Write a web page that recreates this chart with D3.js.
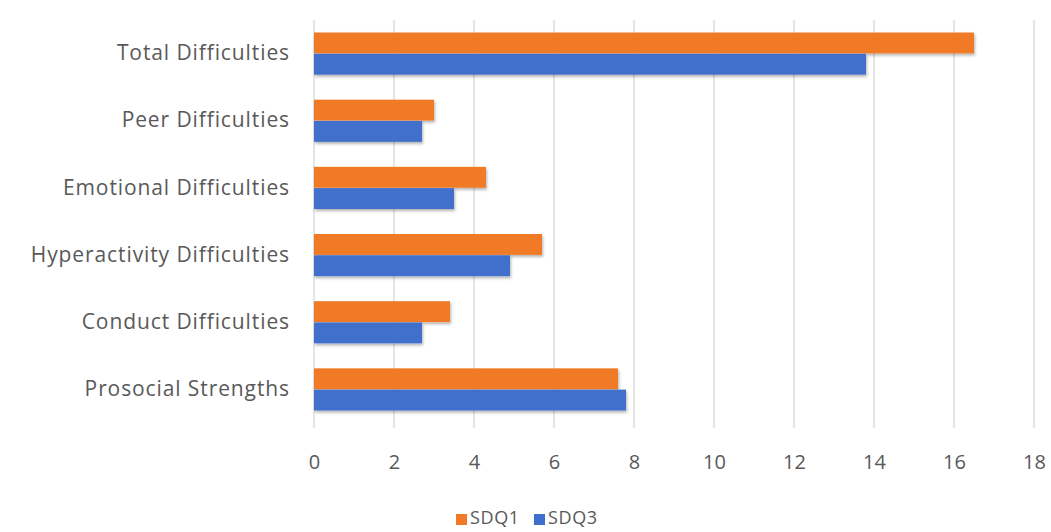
<!DOCTYPE html>
<html>
<head>
<meta charset="utf-8">
<script src="https://cdn.jsdelivr.net/npm/d3@7"></script>
<style>
  html, body { margin: 0; padding: 0; background: #fff; }
  svg { display: block; }
  text { font-family: "Open Sans", "Noto Sans", sans-serif; fill: #595959; }
</style>
</head>
<body>
<svg id="chart" width="1051" height="532"></svg>
<script>
// SDQ scale means per subscale, two time points
const categories = ["Total Difficulties", "Peer Difficulties", "Emotional Difficulties",
                    "Hyperactivity Difficulties", "Conduct Difficulties", "Prosocial Strengths"];
const seriesNames = ["SDQ1", "SDQ3"];
const sdq1 = [16.5, 3.0, 4.3, 5.7, 3.4, 7.6];
const sdq3 = [13.8, 2.7, 3.5, 4.9, 2.7, 7.8];
const xTicks = [0, 2, 4, 6, 8, 10, 12, 14, 16, 18];
const colors = ["#F07A28", "#3F6FCC"];

const seriesValues = [sdq1, sdq3];
const rows = categories.map((c, i) => ({ cat: c, vals: seriesValues.map(s => s[i]) }));

const svg = d3.select("#chart");
const m = { left: 314, right: 17, top: 20, bottom: 109 };
const W = 1051, H = 532;

const x = d3.scaleLinear().domain([0, 18]).range([m.left, W - m.right]);
const y = d3.scaleBand().domain(categories).range([m.top, H - m.bottom]).paddingInner(0.36).paddingOuter(0.18);
const ySub = d3.scaleBand().domain(seriesNames).range([0, y.bandwidth()]).padding(0.02);

// soft drop shadow under the bars
const defs = svg.append("defs");
const f = defs.append("filter").attr("id", "shadow").attr("x", "-5%").attr("y", "-30%").attr("width", "110%").attr("height", "170%");
f.append("feDropShadow").attr("dx", 1).attr("dy", 2).attr("stdDeviation", 1.6).attr("flood-color", "#000").attr("flood-opacity", 0.3);

// vertical gridlines
const grid = svg.append("g").attr("class", "grid");
grid.selectAll("line").data(xTicks).join("line")
  .attr("x1", d => x(d)).attr("x2", d => x(d))
  .attr("y1", m.top).attr("y2", H - m.bottom + 5)
  .attr("stroke", "#dadada").attr("stroke-width", 1.4);

// bars
const groups = svg.append("g").selectAll("g").data(rows).join("g")
  .attr("transform", d => `translate(0,${y(d.cat)})`);
groups.selectAll("rect").data(d => d.vals.map((v, j) => ({ v, s: seriesNames[j], j })))
  .join("rect")
  .attr("x", x(0))
  .attr("y", d => ySub(d.s))
  .attr("width", d => x(d.v) - x(0))
  .attr("height", ySub.bandwidth())
  .attr("fill", d => colors[d.j])
  .attr("filter", "url(#shadow)");

// x axis labels
const xAxis = d3.axisBottom(x).tickValues(xTicks).tickSize(0).tickPadding(0).tickFormat(d3.format("d"));
const gx = svg.append("g").attr("transform", `translate(0,${H - m.bottom + 40})`).call(xAxis);
gx.select(".domain").remove();
gx.selectAll("text").attr("font-size", 20).attr("font-family", null).attr("fill", "#595959").attr("dy", "0.32em");

// category labels
const yAxis = d3.axisLeft(y).tickSize(0).tickPadding(0);
const gy = svg.append("g").attr("transform", `translate(${m.left - 24},0)`).call(yAxis);
gy.select(".domain").remove();
gy.selectAll("text").attr("font-size", 21).attr("letter-spacing", "0.9px").attr("font-family", null).attr("fill", "#595959");

// legend
const legend = svg.append("g").attr("transform", "translate(456,518)");
const items = legend.selectAll("g").data(seriesNames).join("g")
  .attr("transform", (d, i) => `translate(${i * 78},0)`);
items.append("rect").attr("x", 0).attr("y", -4).attr("width", 11).attr("height", 11)
  .attr("fill", (d, i) => colors[i]);
items.append("text").attr("x", 14).attr("y", 0).attr("dy", "0.35em")
  .attr("font-size", 18).attr("letter-spacing", "0.6px").text(d => d);
</script>
</body>
</html>
